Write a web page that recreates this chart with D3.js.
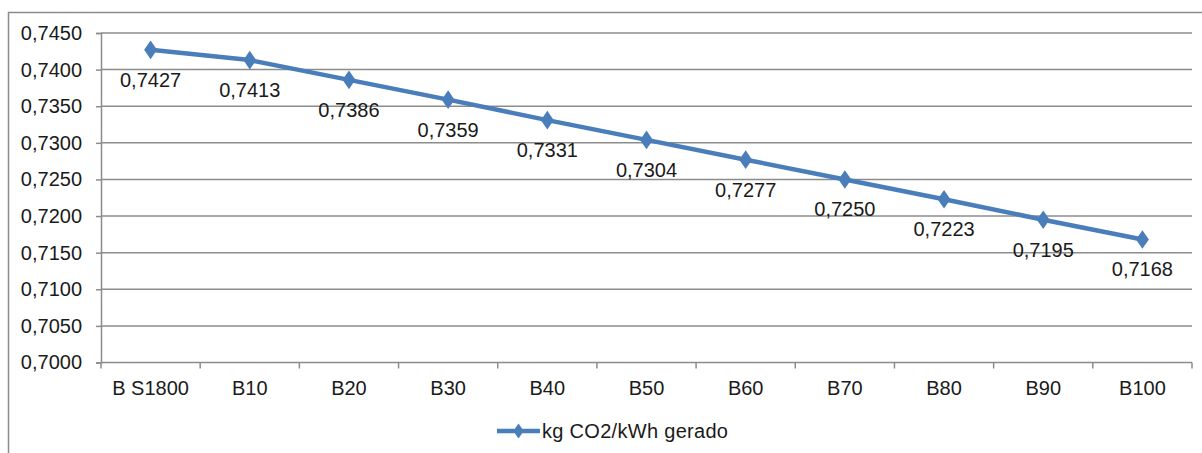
<!DOCTYPE html>
<html lang="en">
<head>
<meta charset="utf-8">
<title>kg CO2/kWh gerado</title>
<script src="https://d3js.org/d3.v7.min.js"></script>
<style>
  body { margin: 0; background: #fff; }
  text { font-family: "Liberation Sans", Arial, sans-serif; fill: #1a1a1a; }
</style>
</head>
<body>
<script>
// data
var categories = ["B S1800", "B10", "B20", "B30", "B40", "B50", "B60", "B70", "B80", "B90", "B100"];
var values = [0.7427, 0.7413, 0.7386, 0.7359, 0.7331, 0.7304, 0.7277, 0.7250, 0.7223, 0.7195, 0.7168];
var yTicks = [0.7000, 0.7050, 0.7100, 0.7150, 0.7200, 0.7250, 0.7300, 0.7350, 0.7400, 0.7450];
var seriesName = "kg CO2/kWh gerado";

var w = 1202, h = 453;
var plotLeft = 101, plotRight = 1192, plotTop = 33, plotBottom = 362.5;
var blue = "#4a7ebb";
var grey = "#8c8c8c";
var fmt = function(v) { return v.toFixed(4).replace(".", ","); };

var svg = d3.select("body").append("svg").attr("width", w).attr("height", h);

// outer frame (only left and top visible)
svg.append("path").attr("d", "M8.5," + h + "V12.5H" + w)
  .attr("fill", "none").attr("stroke", grey).attr("stroke-width", 1.5);

var xScale = d3.scaleBand().domain(categories).range([plotLeft, plotRight]);
var yScale = d3.scaleLinear().domain([0.7, 0.745]).range([plotBottom, plotTop]);

// gridlines
svg.append("g").selectAll("line").data(yTicks.slice(1)).enter().append("line")
  .attr("x1", plotLeft).attr("x2", plotRight)
  .attr("y1", function(d) { return yScale(d); }).attr("y2", function(d) { return yScale(d); })
  .attr("stroke", grey).attr("stroke-width", 1.5);

// y axis
var yAxis = d3.axisLeft(yScale).tickValues(yTicks).tickFormat(fmt).tickSize(5).tickPadding(14);
var gy = svg.append("g").attr("transform", "translate(" + plotLeft + ",0)").call(yAxis);
gy.selectAll("line, path").attr("stroke", grey).attr("stroke-width", 1.5);
gy.selectAll("text").style("font-size", "20px").style("font-family", "Liberation Sans, Arial, sans-serif").attr("fill", "#1a1a1a");

// x axis, tick marks between categories
var xTickPos = d3.range(categories.length + 1).map(function(i) { return plotLeft + i * xScale.bandwidth(); });
svg.append("line").attr("x1", plotLeft).attr("x2", plotRight).attr("y1", plotBottom).attr("y2", plotBottom)
  .attr("stroke", grey).attr("stroke-width", 1.5);
svg.append("g").selectAll("line").data(xTickPos).enter().append("line")
  .attr("x1", function(d) { return d; }).attr("x2", function(d) { return d; })
  .attr("y1", plotBottom).attr("y2", plotBottom + 6)
  .attr("stroke", grey).attr("stroke-width", 1.5);
svg.append("g").selectAll("text").data(categories).enter().append("text")
  .attr("x", function(d) { return xScale(d) + xScale.bandwidth() / 2; })
  .attr("y", plotBottom + 32)
  .attr("text-anchor", "middle").style("font-size", "20px")
  .text(function(d) { return d; });

// series line
var pts = categories.map(function(c, i) { return [xScale(c) + xScale.bandwidth() / 2, yScale(values[i])]; });
svg.append("path").datum(pts).attr("d", d3.line())
  .attr("fill", "none").attr("stroke", blue).attr("stroke-width", 4.5).attr("stroke-linejoin", "round");

var diamond = d3.symbol().type(d3.symbolDiamond).size(100);
svg.append("g").selectAll("path").data(pts).enter().append("path")
  .attr("d", diamond)
  .attr("transform", function(d) { return "translate(" + d[0] + "," + d[1] + ") scale(1.2,1)"; })
  .attr("fill", blue);

// data labels
svg.append("g").selectAll("text").data(values).enter().append("text")
  .attr("x", function(d, i) { return pts[i][0]; })
  .attr("y", function(d, i) { return pts[i][1] + 37; })
  .attr("text-anchor", "middle").style("font-size", "20px")
  .text(fmt);

// legend
var lg = svg.append("g").attr("transform", "translate(497,431)");
lg.append("line").attr("x1", 0).attr("x2", 43).attr("stroke", blue).attr("stroke-width", 4.5);
lg.append("path").attr("d", d3.symbol().type(d3.symbolDiamond).size(65))
  .attr("transform", "translate(21.5,0) scale(1.2,1)").attr("fill", blue);
lg.append("text").attr("x", 45).attr("y", 7).style("font-size", "20px").attr("letter-spacing", "0.3px").text(seriesName);
</script>
</body>
</html>
